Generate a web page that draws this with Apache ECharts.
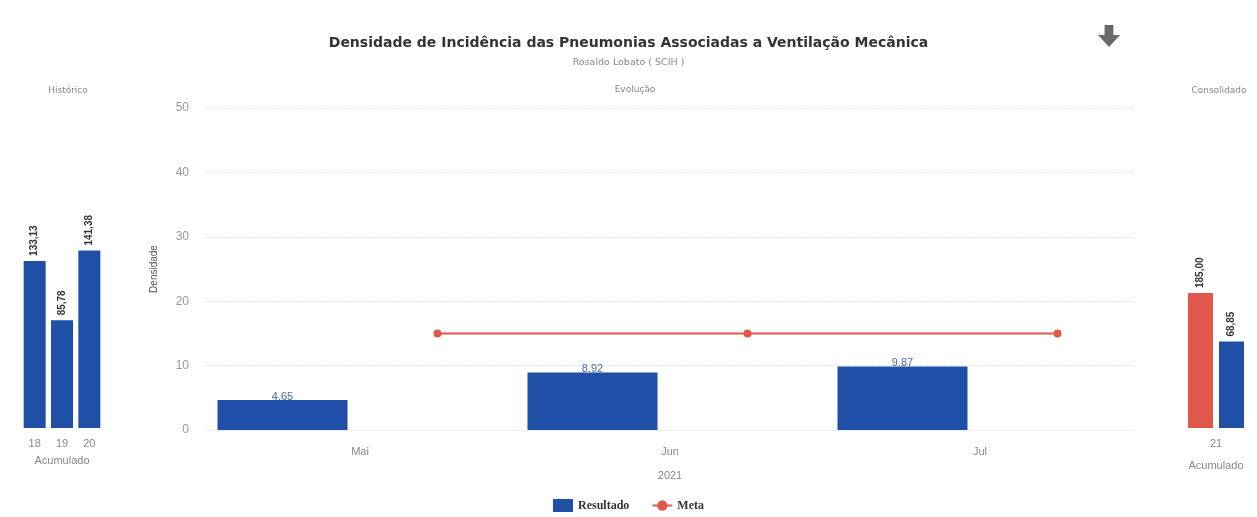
<!DOCTYPE html>
<html>
<head>
<meta charset="utf-8">
<script src="https://cdn.jsdelivr.net/npm/echarts@6/dist/echarts.min.js"></script>
<style>
  html, body { margin: 0; padding: 0; background: #fff; }
  #main { width: 1257px; height: 517px; }
</style>
</head>
<body>
<div id="main"></div>
<script>
// historico (left)
var historicoAnos = ["18", "19", "20"]
var historicoValores = [133.13, 85.78, 141.38]
// evolucao (center)
var meses = ["Mai", "Jun", "Jul"]
var resultado = [4.65, 8.92, 9.87]
var meta = [15, 15, 15]
// consolidado (right)
var consolidadoAno = ["21"]
var consolidadoMeta = [185.0]
var consolidadoResultado = [68.85]

var azul = "#1f4fa6"
var vermelho = "#e0584c"

// two slots per month: bar on the left one, meta point on the right one
var slots = []
meses.forEach(function (m) { slots.push(m + "-r", m + "-m") })
var barData = []
var metaData = []
resultado.forEach(function (v, i) {
  barData.push(v, null)
  metaData.push(null, meta[i])
})

function virgula(p) {
  return p.value.toFixed(2).replace(".", ",")
}

var subTitulo = { fontSize: 9, fontWeight: "normal", color: "#888", fontFamily: "DejaVu Sans" }

var chartDom = document.getElementById("main")
var myChart = echarts.init(chartDom)
var option = {
  animation: false,
  textStyle: { fontFamily: "Arial, Liberation Sans, sans-serif" },
  title: [
    {
      text: "Densidade de Incidência das Pneumonias Associadas a Ventilação Mecânica",
      subtext: "Rosaldo Lobato ( SCIH )",
      left: "center",
      top: 31,
      itemGap: 8,
      textStyle: { fontSize: 14, fontWeight: "bold", color: "#333", fontFamily: "DejaVu Sans" },
      subtextStyle: { fontSize: 9.5, color: "#888", fontFamily: "DejaVu Sans" }
    },
    { text: "Histórico", left: 63, top: 81, textAlign: "center", textStyle: subTitulo },
    { text: "Evolução", left: 630, top: 80, textAlign: "center", textStyle: subTitulo },
    { text: "Consolidado", left: 1214, top: 81, textAlign: "center", textStyle: subTitulo }
  ],
  toolbox: {
    left: 1083,
    top: 10,
    itemSize: 22,
    feature: {
      saveAsImage: {
        title: "",
        icon: "path://M6,0 L14,0 L14,9 L20,9 L10,20 L0,9 L6,9 Z",
        iconStyle: { color: "#6b6b6b", borderWidth: 0 }
      }
    }
  },
  legend: {
    bottom: 0,
    left: "center",
    itemGap: 22,
    itemWidth: 20,
    itemHeight: 13,
    textStyle: { fontFamily: "Liberation Serif", fontWeight: "bold", fontSize: 12, color: "#333" },
    data: [
      { name: "Resultado", icon: "rect" },
      { name: "Meta" }
    ]
  },
  grid: [
    { left: 21, width: 82, top: 177, bottom: 89 },
    { left: 205, right: 122, top: 108, bottom: 87 },
    { left: 1180, width: 72, top: 177, bottom: 89 }
  ],
  xAxis: [
    {
      gridIndex: 0,
      type: "category",
      data: historicoAnos,
      name: "Acumulado",
      nameLocation: "middle",
      nameGap: 27,
      nameTextStyle: { color: "#888", fontSize: 11 },
      axisLine: { show: false },
      axisTick: { show: false },
      axisLabel: { color: "#888", fontSize: 11, margin: 10 }
    },
    {
      gridIndex: 1,
      type: "category",
      data: meses,
      name: "2021",
      nameLocation: "middle",
      nameGap: 40,
      nameTextStyle: { color: "#888", fontSize: 11 },
      axisLine: { lineStyle: { color: "#eee" } },
      axisTick: { show: false },
      axisLabel: { color: "#888", fontSize: 11, margin: 16 }
    },
    {
      gridIndex: 1,
      type: "category",
      data: slots,
      show: false
    },
    {
      gridIndex: 2,
      type: "category",
      data: consolidadoAno,
      name: "Acumulado",
      nameLocation: "middle",
      nameGap: 32,
      nameTextStyle: { color: "#888", fontSize: 11 },
      axisLine: { show: false },
      axisTick: { show: false },
      axisLabel: { color: "#888", fontSize: 11, margin: 10 }
    }
  ],
  yAxis: [
    { gridIndex: 0, type: "value", min: 0, max: 200, show: false },
    {
      gridIndex: 1,
      type: "value",
      min: 0,
      max: 50,
      interval: 10,
      name: "Densidade",
      nameLocation: "middle",
      nameGap: 46,
      nameTextStyle: { color: "#555", fontSize: 10 },
      axisLine: { show: false },
      axisTick: { show: false },
      axisLabel: { color: "#999", fontSize: 12, margin: 16 },
      splitLine: { lineStyle: { color: "#e6e6e6", type: "dashed" } }
    },
    { gridIndex: 2, type: "value", min: 0, max: 344, show: false },
    { gridIndex: 2, type: "value", min: 0, max: 200, show: false }
  ],
  series: [
    {
      name: "Histórico",
      type: "bar",
      xAxisIndex: 0,
      yAxisIndex: 0,
      barWidth: 22,
      itemStyle: { color: azul },
      label: {
        show: true,
        position: "top",
        rotate: 90,
        align: "left",
        verticalAlign: "middle",
        distance: 5,
        formatter: virgula,
        fontSize: 10,
        fontWeight: "bold",
        color: "#333"
      },
      data: historicoValores
    },
    {
      name: "Resultado",
      type: "bar",
      xAxisIndex: 2,
      yAxisIndex: 1,
      barWidth: 130,
      itemStyle: { color: azul },
      label: {
        show: true,
        position: "top",
        distance: -2,
        fontSize: 11,
        color: "#4d6aa3"
      },
      data: barData
    },
    {
      name: "Meta",
      type: "line",
      xAxisIndex: 2,
      yAxisIndex: 1,
      connectNulls: true,
      symbol: "circle",
      symbolSize: 8,
      itemStyle: { color: vermelho },
      lineStyle: { color: vermelho, width: 2 },
      data: metaData
    },
    {
      name: "Consolidado Meta",
      type: "bar",
      xAxisIndex: 3,
      yAxisIndex: 2,
      barWidth: 25,
      barGap: "24%",
      itemStyle: { color: vermelho },
      label: {
        show: true,
        position: "top",
        rotate: 90,
        align: "left",
        verticalAlign: "middle",
        distance: 5,
        formatter: virgula,
        fontSize: 10,
        fontWeight: "bold",
        color: "#333"
      },
      data: consolidadoMeta
    },
    {
      name: "Consolidado Resultado",
      type: "bar",
      xAxisIndex: 3,
      yAxisIndex: 3,
      barWidth: 25,
      barGap: "24%",
      itemStyle: { color: azul },
      label: {
        show: true,
        position: "top",
        rotate: 90,
        align: "left",
        verticalAlign: "middle",
        distance: 5,
        formatter: virgula,
        fontSize: 10,
        fontWeight: "bold",
        color: "#333"
      },
      data: consolidadoResultado
    }
  ]
}

option && myChart.setOption(option)
</script>
</body>
</html>
